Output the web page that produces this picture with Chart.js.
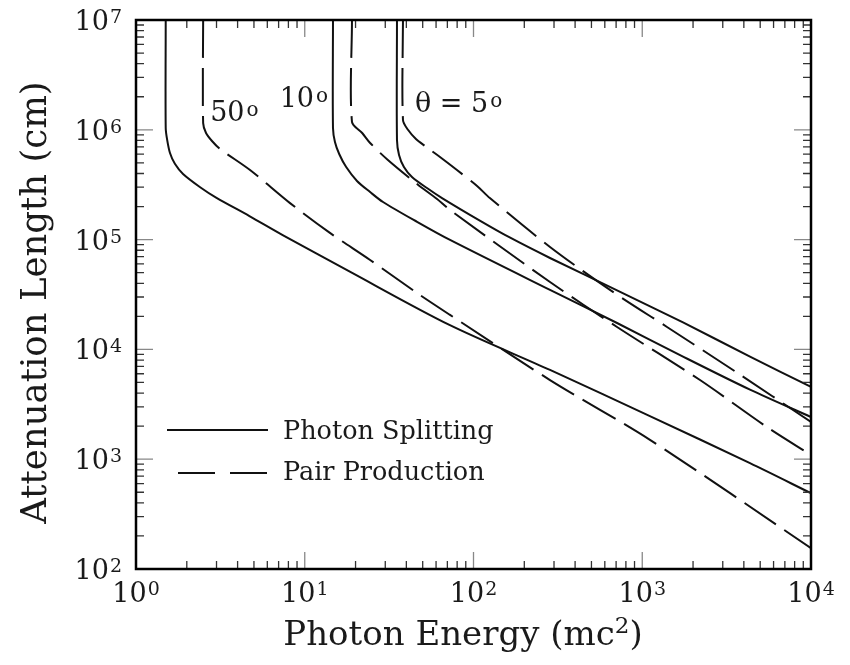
<!DOCTYPE html>
<html>
<head>
<meta charset="utf-8">
<script src="https://cdn.jsdelivr.net/npm/chart.js@4.4.0/dist/chart.umd.min.js"></script>
<style>
  html, body { margin: 0; padding: 0; background: #fff; }
  #wrap { width: 850px; height: 665px; }
</style>
</head>
<body>
<div id="wrap"><canvas id="attenChart" width="850" height="665"></canvas></div>
<script>
// Values: photon energy (mc^2) vs attenuation length (cm)
// photon splitting (solid)
const split50X = [1.5, 1.5, 1.53, 1.59, 1.7, 1.9, 2.4, 3.0, 4.7, 7.4, 18.5, 72, 284, 1110, 4350, 10000];
const split50Y = [1e7, 1.04e6, 8.1e5, 6.15e5, 4.9e5, 3.96e5, 3.0e5, 2.4e5, 1.64e5, 1.1e5, 5.1e4, 1.67e4, 6.5e3, 2.47e3, 920, 490];
const split10X = [14.7, 14.7, 15.1, 16.0, 17.6, 20.4, 24.4, 29.1, 46.3, 72.6, 284, 709, 1744, 4350, 10000];
const split10Y = [1e7, 1.04e6, 7.74e5, 6.02e5, 4.58e5, 3.42e5, 2.71e5, 2.2e5, 1.45e5, 9.92e4, 3.48e4, 1.74e4, 8.6e3, 4.3e3, 2.42e3];
const split5X = [35.2, 35.2, 36.2, 38.7, 43.2, 53.0, 65.1, 109, 165, 284, 709, 1744, 4350, 10000];
const split5Y = [1e7, 8.08e5, 5.9e5, 4.58e5, 3.72e5, 2.95e5, 2.39e5, 1.49e5, 1.04e5, 6.8e4, 3.45e4, 1.76e4, 8.6e3, 4.55e3];

// pair production (dashed)
const pair50X = [2.5, 2.5, 2.6, 2.82, 3.15, 4.74, 8.18, 14.1, 24.4, 46.3, 72.6, 284, 1111, 10000];
const pair50Y = [1e7, 1.15e6, 9.35e5, 7.91e5, 6.68e5, 4.3e5, 2.15e5, 1.15e5, 6.52e4, 3.26e4, 2.06e4, 5.26e3, 1.5e3, 155];
const pair10X = [19.05, 19.05, 21.9, 24.4, 31.1, 46.3, 60.8, 72.6, 284, 709, 2199, 5487, 10000];
const pair10Y = [1e7, 1.18e6, 9.35e5, 7.59e5, 5.31e5, 3.21e5, 2.34e5, 1.86e5, 4.11e4, 1.6e4, 5.26e3, 1.96e3, 1.09e3];
const pair5X = [38.2, 38.2, 40.9, 45.6, 51.6, 63.3, 79.8, 105, 125, 284, 644, 1402, 3450, 10000];
const pair5Y = [1e7, 1.23e6, 1.0e6, 8.25e5, 7.12e5, 5.65e5, 4.3e5, 3.08e5, 2.39e5, 8.57e4, 3.48e4, 1.6e4, 6.49e3, 2.18e3];

// axis decades (tick labels are 10^n)
const xDecades = [0, 1, 2, 3, 4];
const yDecades = [2, 3, 4, 5, 6, 7];

const legendLabels = ['Photon Splitting', 'Pair Production'];

function toPoints(xs, ys) {
    return xs.map((x, i) => ({ x: x, y: ys[i] }));
}

const SERIF = '"DejaVu Serif", serif';
const INK = '#111';

function solid(xs, ys) {
    return { data: toPoints(xs, ys), borderColor: INK, borderWidth: 2, borderDash: [] };
}
function dashed(xs, ys) {
    return { data: toPoints(xs, ys), borderColor: INK, borderWidth: 2, borderDash: [38, 10] };
}

// draws "10" with a raised exponent
function drawPower(ctx, exp, x, y, align) {
    ctx.font = '27px ' + SERIF;
    const wMain = ctx.measureText('10').width;
    ctx.font = '19px ' + SERIF;
    const wSup = ctx.measureText(String(exp)).width;
    const total = wMain + wSup + 1;
    let x0 = x;
    if (align === 'center') x0 = x - total / 2;
    if (align === 'right') x0 = x - total;
    ctx.textAlign = 'left';
    ctx.textBaseline = 'alphabetic';
    ctx.font = '27px ' + SERIF;
    ctx.fillText('10', x0, y);
    ctx.font = '19px ' + SERIF;
    ctx.fillText(String(exp), x0 + wMain + 1, y - 7);
}

// text with a small raised "o" as the degree mark
function drawDegree(ctx, text, x, y) {
    ctx.textAlign = 'left';
    ctx.textBaseline = 'alphabetic';
    ctx.font = '27px ' + SERIF;
    ctx.fillText(text, x, y);
    const w = ctx.measureText(text).width;
    ctx.font = '20px ' + SERIF;
    ctx.fillText('o', x + w + 2, y - 5);
}

const framePlugin = {
    id: 'framePlugin',
    afterDraw(chart) {
        const ctx = chart.ctx;
        const { left, right, top, bottom } = chart.chartArea;
        const xs = chart.scales.x;
        const ys = chart.scales.y;
        ctx.save();

        // inward ticks on all four sides
        ctx.lineWidth = 1.3;
        for (const e of xDecades) {
            for (let m = 1; m <= 9; m++) {
                const v = m * Math.pow(10, e);
                if (v > 1e4) break;
                const px = xs.getPixelForValue(v);
                const len = m === 1 ? 17 : 8;
                ctx.strokeStyle = m === 1 ? '#888' : '#333';
                ctx.beginPath();
                ctx.moveTo(px, bottom); ctx.lineTo(px, bottom - len);
                ctx.moveTo(px, top); ctx.lineTo(px, top + len);
                ctx.stroke();
            }
        }
        for (const e of yDecades) {
            for (let m = 1; m <= 9; m++) {
                const v = m * Math.pow(10, e);
                if (v > 1e7) break;
                const py = ys.getPixelForValue(v);
                const len = m === 1 ? 17 : 8;
                ctx.strokeStyle = m === 1 ? '#888' : '#333';
                ctx.beginPath();
                ctx.moveTo(left, py); ctx.lineTo(left + len, py);
                ctx.moveTo(right, py); ctx.lineTo(right - len, py);
                ctx.stroke();
            }
        }

        // frame
        ctx.strokeStyle = '#000';
        ctx.lineWidth = 2.5;
        ctx.strokeRect(left, top, right - left, bottom - top);

        // tick labels
        ctx.fillStyle = '#1a1a1a';
        for (const e of xDecades) {
            drawPower(ctx, e, xs.getPixelForValue(Math.pow(10, e)), bottom + 33, 'center');
        }
        for (const e of yDecades) {
            drawPower(ctx, e, left - 14, ys.getPixelForValue(Math.pow(10, e)) + 10, 'right');
        }

        // axis titles
        ctx.font = '34px ' + SERIF;
        const t1 = 'Photon Energy (mc';
        const w1 = ctx.measureText(t1).width;
        ctx.font = '23px ' + SERIF;
        const w2 = ctx.measureText('2').width;
        ctx.font = '34px ' + SERIF;
        const w3 = ctx.measureText(')').width;
        let tx = 463 - (w1 + w2 + w3) / 2;
        ctx.textAlign = 'left';
        ctx.textBaseline = 'alphabetic';
        ctx.fillText(t1, tx, 645);
        ctx.font = '23px ' + SERIF;
        ctx.fillText('2', tx + w1, 633);
        ctx.font = '34px ' + SERIF;
        ctx.fillText(')', tx + w1 + w2, 645);

        ctx.save();
        ctx.translate(37, (top + bottom) / 2 + 8);
        ctx.rotate(-Math.PI / 2);
        ctx.textAlign = 'center';
        ctx.textBaseline = 'middle';
        ctx.font = '35.5px ' + SERIF;
        ctx.fillText('Attenuation Length (cm)', 0, 0);
        ctx.restore();

        // legend inside the plot
        ctx.strokeStyle = INK;
        ctx.lineWidth = 2;
        ctx.beginPath();
        ctx.moveTo(167, 430); ctx.lineTo(268, 430);
        ctx.stroke();
        ctx.setLineDash([37, 15]);
        ctx.beginPath();
        ctx.moveTo(178, 473); ctx.lineTo(268, 473);
        ctx.stroke();
        ctx.setLineDash([]);
        ctx.font = '25.5px ' + SERIF;
        ctx.textAlign = 'left';
        ctx.textBaseline = 'middle';
        ctx.fillText(legendLabels[0], 283, 432);
        ctx.fillText(legendLabels[1], 283, 473);

        // angle labels
        drawDegree(ctx, '50', xs.getPixelForValue(2.75), ys.getPixelForValue(1.2e6));
        drawDegree(ctx, '10', xs.getPixelForValue(7.1), ys.getPixelForValue(1.6e6));
        drawDegree(ctx, '\u03B8 = 5', xs.getPixelForValue(45), ys.getPixelForValue(1.45e6));

        ctx.restore();
    }
};

const ctx = document.getElementById('attenChart');
const chart = new Chart(ctx, {
    type: 'line',
    data: {
        datasets: [
            solid(split50X, split50Y),
            solid(split10X, split10Y),
            solid(split5X, split5Y),
            dashed(pair50X, pair50Y),
            dashed(pair10X, pair10Y),
            dashed(pair5X, pair5Y)
        ]
    },
    options: {
        responsive: false,
        animation: false,
        layout: { padding: { left: 136, top: 20, right: 39, bottom: 96 } },
        elements: {
            point: { radius: 0 },
            line: { tension: 0.3, fill: false }
        },
        plugins: {
            legend: { display: false },
            tooltip: { enabled: false }
        },
        scales: {
            x: { type: 'logarithmic', min: 1, max: 10000, display: false },
            y: { type: 'logarithmic', min: 100, max: 1e7, display: false }
        }
    },
    plugins: [framePlugin]
});
</script>
</body>
</html>
